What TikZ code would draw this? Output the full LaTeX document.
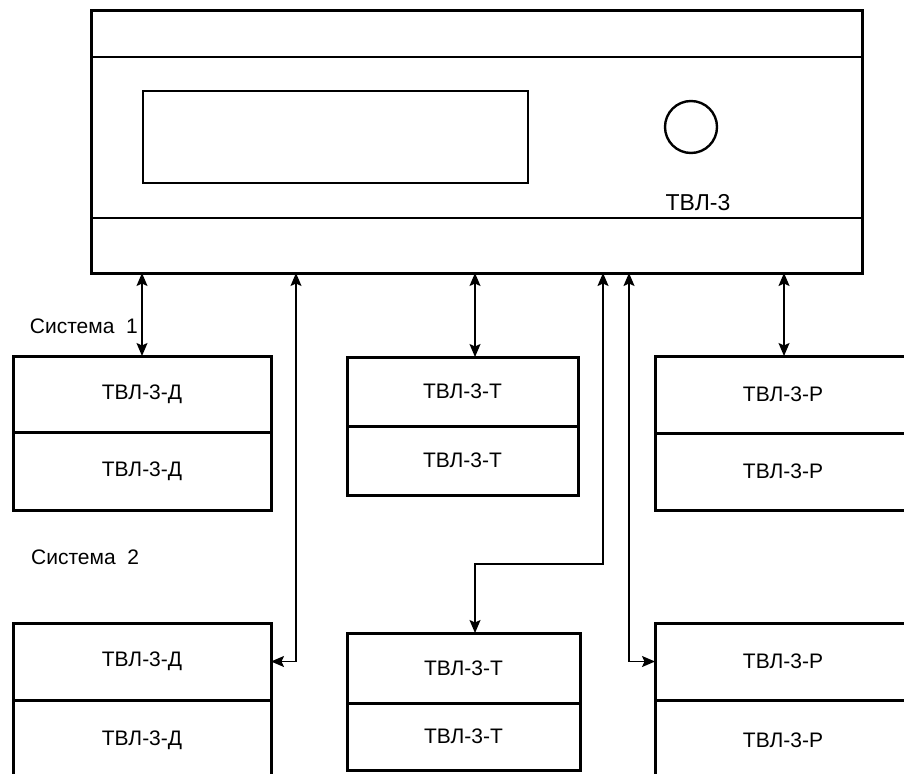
\documentclass[tikz,border=0pt]{standalone}
\usepackage{fontspec}
\setmainfont{Liberation Sans}
\usetikzlibrary{arrows.meta}
\begin{document}
\begin{tikzpicture}[x=1pt,y=-1pt,
  dbl/.style={line width=1.5pt,{Stealth[length=13pt,width=11pt,inset=2.5pt]}-{Stealth[length=13pt,width=11pt,inset=2.5pt]}},
  frame/.style={draw,line width=3pt,rectangle,inner sep=0pt,outer sep=0pt},
  half/.style={frame,font=\fontsize{21}{25}\selectfont},
  lbl/.style={font=\fontsize{21}{25}\selectfont,inner sep=0pt}]
\useasboundingbox (0,0) rectangle (904,773);
\clip (0,0) rectangle (904,773);
% main unit
\node[frame,minimum width=771pt,minimum height=262pt] (main) at (476.5,142) {};
\coordinate (l1) at (0,57);
\coordinate (l2) at (0,218);
\draw[line width=2.6pt] (main.west |- l1) -- (main.east |- l1);
\draw[line width=2.6pt] (main.west |- l2) -- (main.east |- l2);
\node[frame,line width=2.4pt,minimum width=385pt,minimum height=92pt] (disp) at (335.5,137) {};
\node[draw,circle,line width=2.4pt,minimum size=52pt,inner sep=0pt] (knob) at (691,127) {};
\node[font=\fontsize{23}{27}\selectfont,inner sep=0pt] (mlabel) at (698,203) {ТВЛ-3};
% system 1 boxes
\node[half,minimum width=258pt,minimum height=76pt] (d1a) at (142,394) {ТВЛ-3-Д};
\node[half,minimum width=258pt,minimum height=78pt] (d1b) at (142,471) {ТВЛ-3-Д};
\node[half,minimum width=231pt,minimum height=69pt] (t1a) at (462.5,391.5) {ТВЛ-3-Т};
\node[half,minimum width=231pt,minimum height=69pt] (t1b) at (462.5,460.5) {ТВЛ-3-Т};
\node[half,minimum width=256pt,minimum height=77pt] (r1a) at (783,394.5) {ТВЛ-3-Р};
\node[half,minimum width=256pt,minimum height=77pt] (r1b) at (783,471.5) {ТВЛ-3-Р};
% system 2 boxes
\node[half,minimum width=258pt,minimum height=77pt] (d2a) at (142,661.5) {ТВЛ-3-Д};
\node[half,minimum width=258pt,minimum height=80pt] (d2b) at (142,740) {ТВЛ-3-Д};
\node[half,minimum width=233pt,minimum height=70pt] (t2a) at (463.5,668) {ТВЛ-3-Т};
\node[half,minimum width=233pt,minimum height=67pt] (t2b) at (463.5,736.5) {ТВЛ-3-Т};
\node[half,minimum width=256pt,minimum height=77pt] (r2a) at (783,661.5) {ТВЛ-3-Р};
\node[half,minimum width=256pt,minimum height=80pt] (r2b) at (783,740) {ТВЛ-3-Р};
% labels
\node[lbl,anchor=east] (s1) at (138,326) {Система\ \ 1};
\node[lbl,anchor=west] (s2) at (31,557) {Система\ \ 2};
% connector routes
\coordinate (px2) at (296,0);
\coordinate (px3) at (475,0);
\coordinate (px4) at (603,0);
\coordinate (px5) at (629,0);
\coordinate (px6) at (784,0);
\coordinate (py4) at (0,564);
\draw[dbl] (main.south -| d1a.north) -- (d1a.north);
\draw[dbl] (main.south -| px2) -- (px2 |- d2a.east) -- (d2a.east);
\draw[dbl] (main.south -| px3) -- (px3 |- t1a.north);
\draw[dbl] (main.south -| px4) -- (px4 |- py4) -- (px3 |- py4) -- (px3 |- t2a.north);
\draw[dbl] (main.south -| px5) -- (px5 |- r2a.west) -- (r2a.west);
\draw[dbl] (main.south -| px6) -- (px6 |- r1a.north);
\end{tikzpicture}
\end{document}
